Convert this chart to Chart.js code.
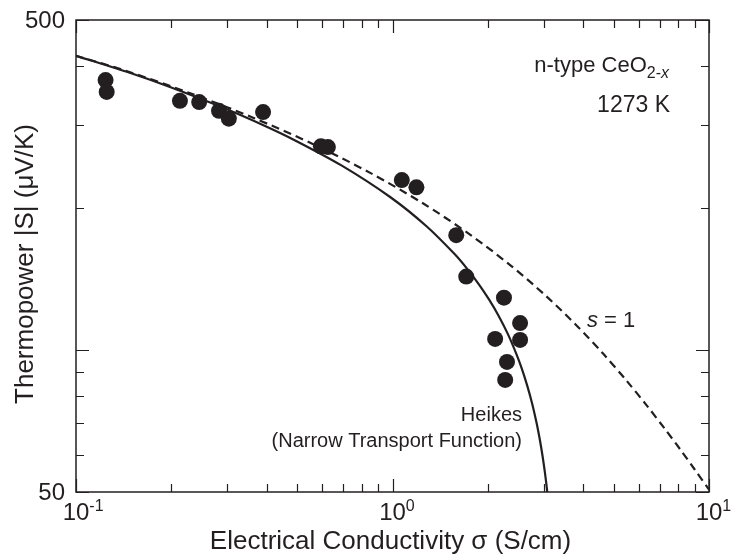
<!DOCTYPE html>
<html>
<head>
<meta charset="utf-8">
<script src="https://cdn.jsdelivr.net/npm/chart.js@4"></script>
<style>
  html, body { margin: 0; padding: 0; background: #fff; }
</style>
</head>
<body>
<canvas id="chart" width="732" height="554"></canvas>
<script>
// measured conductivity (S/cm) and |S| (uV/K)
const sigmaMeasured = [0.124, 0.125, 0.213, 0.245, 0.283, 0.304, 0.390, 0.594, 0.625, 1.07, 1.19, 1.59, 1.71, 2.25, 2.53, 2.11, 2.53, 2.30, 2.27];
const seebeckMeasured = [373, 352, 337, 335, 321, 309, 319, 270, 269, 229, 221, 175, 143, 129, 114, 105.5, 105, 94.3, 86.4];

// Heikes curve (narrow transport function)
const heikesSigma = [0.1, 0.1478, 0.1971, 0.2956, 0.3941, 0.4926, 0.6897, 0.9853, 1.2809, 1.5765, 1.7243, 1.8721, 2.0199, 2.1676, 2.3154, 2.4632, 2.5618, 2.6603, 2.7588, 2.8573, 2.9066, 2.9559, 3.0052, 3.0544, 3.0840];
const heikesS = [420, 386.5, 361, 324.7, 298.6, 277.9, 246, 210.6, 182.8, 159.2, 148.3, 137.9, 127.8, 117.9, 108.0, 98.0, 91.3, 84.3, 77.2, 69.7, 65.7, 61.6, 57.3, 52.8, 49.9];

// s = 1 transport function curve
const s1Sigma = [0.1, 0.142, 0.2285, 0.3625, 0.5639, 0.8533, 1.2477, 1.7533, 2.3639, 3.0625, 3.8285, 4.642, 5.4875, 6.3537, 7.2327, 8.1199, 9.0121, 10];
const s1S = [420, 391.2, 350.2, 310.5, 272.5, 236.9, 204.5, 175.7, 150.9, 129.9, 112.4, 98.0, 86.1, 76.3, 68.2, 61.5, 55.8, 50.6];

// axis ticks
const xMajorTicks = [0.1, 1, 10];
const xMinorTicks = [0.2, 0.3, 0.4, 0.5, 0.6, 0.7, 0.8, 0.9, 2, 3, 4, 5, 6, 7, 8, 9];
const xTickExponents = ['-1', '0', '1'];
const yMajorTicks = [50, 100, 500];
const yMinorTicks = [60, 70, 80, 90, 200, 300, 400];
const yTickLabels = [50, 500];

const ink = '#231f20';
const fontFamily = '"Liberation Sans", Arial, sans-serif';

const toPoints = (xs, ys) => xs.map((x, i) => ({ x: x, y: ys[i] }));

// frame, inward ticks, labels and notes
const framePlugin = {
  id: 'frame',
  afterDraw(chart) {
    const ctx = chart.ctx;
    const a = chart.chartArea;
    const xs = chart.scales.x;
    const ys = chart.scales.y;
    ctx.save();
    ctx.strokeStyle = ink;
    ctx.fillStyle = ink;
    ctx.lineWidth = 1.5;
    ctx.strokeRect(a.left, a.top, a.right - a.left, a.bottom - a.top);

    const tickX = (v, len) => {
      const px = Math.round(xs.getPixelForValue(v)) + 0.5;
      ctx.beginPath();
      ctx.moveTo(px, a.bottom); ctx.lineTo(px, a.bottom - len);
      ctx.moveTo(px, a.top); ctx.lineTo(px, a.top + len);
      ctx.stroke();
    };
    const tickY = (v, len) => {
      const py = Math.round(ys.getPixelForValue(v)) + 0.5;
      ctx.beginPath();
      ctx.moveTo(a.left, py); ctx.lineTo(a.left + len, py);
      ctx.moveTo(a.right, py); ctx.lineTo(a.right - len, py);
      ctx.stroke();
    };
    ctx.lineWidth = 1.2;
    xMajorTicks.forEach(v => tickX(v, 13));
    xMinorTicks.forEach(v => tickX(v, 8));
    yMajorTicks.forEach(v => tickY(v, 13));
    yMinorTicks.forEach(v => tickY(v, 8));

    // x tick labels as powers of ten
    ctx.textBaseline = 'alphabetic';
    xMajorTicks.forEach((v, i) => {
      const px = xs.getPixelForValue(v);
      ctx.font = '24px ' + fontFamily;
      const w = ctx.measureText('10').width;
      ctx.textAlign = 'left';
      ctx.fillText('10', px - w / 2, 520);
      ctx.font = '16px ' + fontFamily;
      ctx.fillText(xTickExponents[i], px + w / 2, 511);
    });

    // y tick labels
    ctx.font = '24px ' + fontFamily;
    ctx.textAlign = 'right';
    ctx.textBaseline = 'middle';
    yTickLabels.forEach(v => {
      ctx.fillText(String(v), 65, ys.getPixelForValue(v) + 1);
    });

    // axis titles
    ctx.textBaseline = 'alphabetic';
    ctx.textAlign = 'center';
    ctx.font = '26px ' + fontFamily;
    ctx.fillText('Electrical Conductivity \u03c3 (S/cm)', (a.left + a.right) / 2 - 2, 549);
    ctx.save();
    ctx.translate(33, (a.top + a.bottom) / 2 + 8);
    ctx.rotate(-Math.PI / 2);
    ctx.fillText('Thermopower |S| (\u03bcV/K)', 0, 0);
    ctx.restore();

    // sample notes
    ctx.textAlign = 'right';
    ctx.font = 'italic 16px ' + fontFamily;
    const subItalic = ctx.measureText('x').width;
    ctx.fillText('x', 669, 78);
    ctx.font = '16px ' + fontFamily;
    ctx.fillText('2-', 669 - subItalic, 78);
    const subW = ctx.measureText('2-').width + subItalic;
    ctx.font = '22px ' + fontFamily;
    ctx.fillText('n-type CeO', 669 - subW, 72);
    ctx.font = '23px ' + fontFamily;
    ctx.fillText('1273 K', 670, 112);

    // curve labels
    ctx.font = '20px ' + fontFamily;
    ctx.fillText('Heikes', 522, 421);
    ctx.fillText('(Narrow Transport Function)', 522, 447);
    ctx.textAlign = 'left';
    ctx.font = 'italic 22px ' + fontFamily;
    ctx.fillText('s', 587, 327);
    const sw = ctx.measureText('s ').width;
    ctx.font = '22px ' + fontFamily;
    ctx.fillText('= 1', 587 + sw, 327);
    ctx.restore();
  }
};

new Chart(document.getElementById('chart'), {
  type: 'scatter',
  data: {
    datasets: [
      {
        label: 'Heikes',
        data: toPoints(heikesSigma, heikesS),
        showLine: true,
        borderColor: ink,
        borderWidth: 2.2,
        pointRadius: 0,
        tension: 0.3,
        clip: 0
      },
      {
        label: 's = 1',
        data: toPoints(s1Sigma, s1S),
        showLine: true,
        borderColor: ink,
        borderWidth: 2.2,
        borderDash: [8, 5],
        pointRadius: 0,
        tension: 0.3,
        clip: 0
      },
      {
        label: 'measured',
        data: toPoints(sigmaMeasured, seebeckMeasured),
        showLine: false,
        pointRadius: 8,
        pointBackgroundColor: ink,
        pointBorderColor: ink,
        pointBorderWidth: 0
      }
    ]
  },
  options: {
    responsive: false,
    animation: false,
    devicePixelRatio: 1,
    layout: { padding: { left: 76, top: 20, right: 23, bottom: 62 } },
    plugins: {
      legend: { display: false },
      tooltip: { enabled: false }
    },
    scales: {
      x: { type: 'logarithmic', min: 0.1, max: 10, display: false },
      y: { type: 'logarithmic', min: 50, max: 500, display: false }
    }
  },
  plugins: [framePlugin]
});
</script>
</body>
</html>
